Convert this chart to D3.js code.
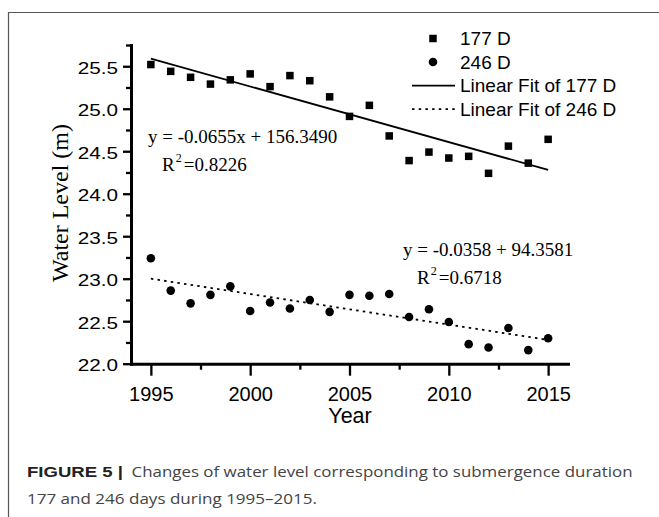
<!DOCTYPE html>
<html>
<head>
<meta charset="utf-8">
<script src="https://cdn.jsdelivr.net/npm/d3@7/dist/d3.min.js"></script>
<style>
	body { margin: 0; background: #fff; }
	svg { display: block; }
	.axis path, .axis line { stroke: #000; }
	.axis text { fill: #000; font-family: "Liberation Sans", Arial, sans-serif; }
	.eq { font-family: "Liberation Serif", "Times New Roman", serif; font-size: 19px; fill: #000; }
	.legend-text { font-family: "Liberation Sans", Arial, sans-serif; font-size: 19px; fill: #000; }
	.caption { font-family: "Open Sans", "Liberation Sans", sans-serif; font-size: 15px; fill: #444; }
	.caption-bold { font-family: "Liberation Sans", Arial, sans-serif; font-weight: bold; fill: #222; }
</style>
</head>
<body>
<div id="chart"></div>
<script>
// data
var years = [1995, 1996, 1997, 1998, 1999, 2000, 2001, 2002, 2003, 2004, 2005,
	2006, 2007, 2008, 2009, 2010, 2011, 2012, 2013, 2014, 2015];

var level177 = [25.52, 25.44, 25.37, 25.29, 25.34, 25.41, 25.26, 25.39, 25.33, 25.14, 24.91,
	25.04, 24.68, 24.39, 24.49, 24.42, 24.44, 24.24, 24.56, 24.36, 24.64];

var level246 = [23.24, 22.86, 22.71, 22.81, 22.91, 22.62, 22.72, 22.65, 22.75, 22.61, 22.81,
	22.80, 22.82, 22.55, 22.64, 22.49, 22.23, 22.19, 22.42, 22.16, 22.30];

// fitted lines, ends at 1995 and 2015
var fitYears = [1995, 2015];
var fit177 = [25.59, 24.28];
var fit246 = [23.00, 22.28];

// ticks
var yTicks = [22.0, 22.5, 23.0, 23.5, 24.0, 24.5, 25.0, 25.5];
var yMinorTicks = [22.25, 22.75, 23.25, 23.75, 24.25, 24.75, 25.25, 25.75];
var xTicks = [1995, 2000, 2005, 2010, 2015];
var xMinorTicks = [1997.5, 2002.5, 2007.5, 2012.5];

var legendLabels = ["177 D", "246 D", "Linear Fit of 177 D", "Linear Fit of 246 D"];

var eq177 = ["y = -0.0655x + 156.3490", "0.8226"];
var eq246 = ["y = -0.0358 + 94.3581", "0.6718"];

var captionBold = "FIGURE 5 |";
var captionLines = ["Changes of water level corresponding to submergence duration",
	"177 and 246 days during 1995\u20132015."];

// magic numbers
var W = 659, H = 517;

var svg = d3.select("#chart").append("svg")
		.attr("width", W)
		.attr("height", H);

// outer frame (top + left only)
svg.append("path")
		.attr("d", "M8.5," + H + "V12.5H" + W)
		.attr("fill", "none")
		.attr("stroke", "#555")
		.attr("stroke-width", 1.2);

var x = d3.scaleLinear()
		.domain([1994, 2016])
		.range([131, 568]);

var y = d3.scaleLinear()
		.domain([22.0, 25.75])
		.range([363.7, 45]);

// y axis, minor first
svg.append("g")
		.attr("class", "axis")
		.attr("transform", "translate(" + x.range()[0] + ",0)")
		.call(d3.axisLeft(y).tickValues(yMinorTicks).tickSize(5).tickFormat(""))
		.call(function(g){ g.select(".domain").remove(); })
		.selectAll("line").attr("stroke-width", 2.3);

var yAxis = svg.append("g")
		.attr("class", "axis")
		.attr("transform", "translate(" + x.range()[0] + ",0)")
		.call(d3.axisLeft(y).tickValues(yTicks).tickSize(8).tickSizeOuter(0).tickFormat(d3.format(".1f")));

yAxis.selectAll("line").attr("stroke-width", 2.3);
yAxis.select(".domain").attr("stroke-width", 3).attr("stroke-linecap", "square");
yAxis.selectAll("text")
		.attr("x", null)
		.attr("dy", "0.4em")
		.attr("font-size", 17)
		.attr("transform", "translate(-13,0) scale(1.22,1)");

// x axis
svg.append("g")
		.attr("class", "axis")
		.attr("transform", "translate(0," + y.range()[0] + ")")
		.call(d3.axisBottom(x).tickValues(xMinorTicks).tickSize(6).tickFormat(""))
		.call(function(g){ g.select(".domain").remove(); })
		.selectAll("line").attr("stroke-width", 2.3);

var xAxis = svg.append("g")
		.attr("class", "axis")
		.attr("transform", "translate(0," + y.range()[0] + ")")
		.call(d3.axisBottom(x).tickValues(xTicks).tickSize(12).tickSizeOuter(0).tickPadding(11).tickFormat(d3.format("d")));

xAxis.selectAll("line").attr("stroke-width", 2.3);
xAxis.select(".domain").attr("stroke-width", 3).attr("stroke-linecap", "square");
xAxis.selectAll("text").attr("font-size", 20);

// axis titles
svg.append("text")
		.attr("x", 350)
		.attr("y", 423)
		.attr("text-anchor", "middle")
		.attr("font-family", "Liberation Sans, Arial, sans-serif")
		.attr("font-size", 21.5)
		.text("Year");

svg.append("text")
		.attr("transform", "translate(68,203) rotate(-90)")
		.attr("text-anchor", "middle")
		.attr("font-family", "Liberation Serif, Times New Roman, serif")
		.attr("font-size", 24)
		.text("Water Level (m)");

// fit lines
var line = d3.line()
		.x(function(d){ return x(d[0]); })
		.y(function(d){ return y(d[1]); });

svg.append("path")
		.datum(d3.zip(fitYears, fit177))
		.attr("d", line)
		.attr("fill", "none")
		.attr("stroke", "#000")
		.attr("stroke-width", 1.8);

svg.append("path")
		.datum(d3.zip(fitYears, fit246))
		.attr("d", line)
		.attr("fill", "none")
		.attr("stroke", "#000")
		.attr("stroke-width", 1.8)
		.attr("stroke-dasharray", "2.5,4.2");

// points
var sq = 7.5;
svg.selectAll(".pt177")
		.data(d3.zip(years, level177))
	.enter().append("rect")
		.attr("class", "pt177")
		.attr("x", function(d){ return x(d[0]) - sq / 2; })
		.attr("y", function(d){ return y(d[1]) - sq / 2; })
		.attr("width", sq)
		.attr("height", sq)
		.attr("fill", "#000");

svg.selectAll(".pt246")
		.data(d3.zip(years, level246))
	.enter().append("circle")
		.attr("class", "pt246")
		.attr("cx", function(d){ return x(d[0]); })
		.attr("cy", function(d){ return y(d[1]); })
		.attr("r", 4.3)
		.attr("fill", "#000");

// equations
function equation(eq, x0, y0, dx){
	var g = svg.append("g");
	g.append("text")
			.attr("class", "eq")
			.attr("x", x0)
			.attr("y", y0)
			.text(eq[0]);
	var r = g.append("text")
			.attr("class", "eq")
			.attr("x", x0 + dx)
			.attr("y", y0 + 28);
	r.append("tspan").text("R");
	r.append("tspan").attr("font-size", 12).attr("dy", -9).attr("dx", 1).text("2");
	r.append("tspan").attr("dy", 9).attr("dx", 2).text("=" + eq[1]);
}

equation(eq177, 148, 142.5, 14);
equation(eq246, 403, 256, 14);

// legend
var legend = svg.append("g");

var rows = [38.5, 62, 85.7, 109.2];

legend.append("rect")
		.attr("x", 433 - sq / 2)
		.attr("y", rows[0] - sq / 2)
		.attr("width", sq)
		.attr("height", sq)
		.attr("fill", "#000");

legend.append("circle")
		.attr("cx", 433)
		.attr("cy", rows[1])
		.attr("r", 4.3)
		.attr("fill", "#000");

legend.append("line")
		.attr("x1", 412).attr("x2", 455)
		.attr("y1", rows[2]).attr("y2", rows[2])
		.attr("stroke", "#000")
		.attr("stroke-width", 1.8);

legend.append("line")
		.attr("x1", 412).attr("x2", 455)
		.attr("y1", rows[3]).attr("y2", rows[3])
		.attr("stroke", "#000")
		.attr("stroke-width", 1.8)
		.attr("stroke-dasharray", "2.5,4.2");

legend.selectAll(".legend-text")
		.data(legendLabels)
	.enter().append("text")
		.attr("class", "legend-text")
		.attr("x", 460)
		.attr("y", function(d, i){ return rows[i] + 6.7; })
		.text(function(d){ return d; });

// caption
svg.append("text")
		.attr("class", "caption caption-bold")
		.attr("x", 27)
		.attr("y", 477.3)
		.attr("textLength", 96)
		.attr("lengthAdjust", "spacingAndGlyphs")
		.text(captionBold);

svg.append("text")
		.attr("class", "caption")
		.attr("x", 131.5)
		.attr("y", 477.3)
		.attr("textLength", 501)
		.attr("lengthAdjust", "spacingAndGlyphs")
		.text(captionLines[0]);

svg.append("text")
		.attr("class", "caption")
		.attr("x", 27)
		.attr("y", 504)
		.attr("textLength", 290)
		.attr("lengthAdjust", "spacingAndGlyphs")
		.text(captionLines[1]);
</script>
</body>
</html>
